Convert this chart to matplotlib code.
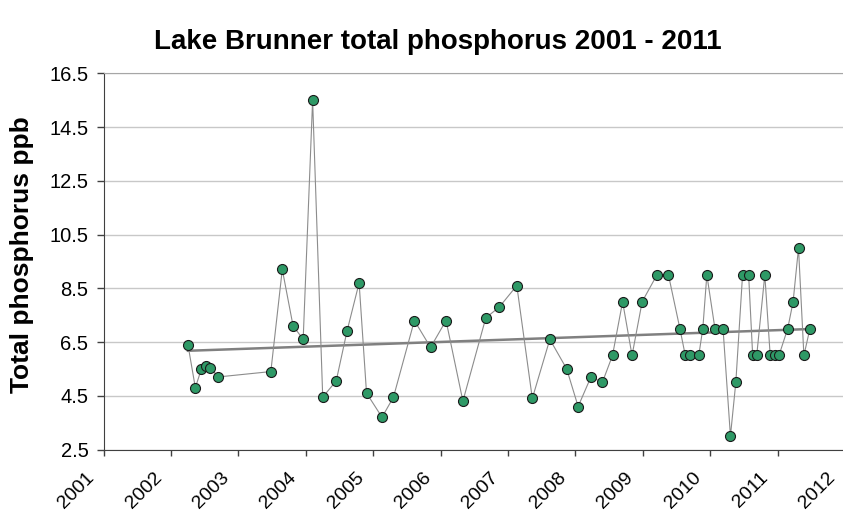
# Lake Brunner total phosphorus chart

import numpy as np
import matplotlib.pyplot as plt
import matplotlib.transforms as mtransforms

# sample dates (decimal years) and total phosphorus (ppb)
dates = [2002.25, 2002.36, 2002.45, 2002.52, 2002.58, 2002.70,
         2003.48, 2003.65, 2003.81, 2003.96, 2004.10, 2004.25,
         2004.45, 2004.61, 2004.79, 2004.90, 2005.13, 2005.30,
         2005.61, 2005.85, 2006.08, 2006.33, 2006.67, 2006.87,
         2007.13, 2007.36, 2007.62, 2007.87, 2008.04, 2008.23,
         2008.40, 2008.55, 2008.70, 2008.84, 2008.99, 2009.21,
         2009.38, 2009.55, 2009.63, 2009.70, 2009.83, 2009.89,
         2009.95, 2010.07, 2010.19, 2010.30, 2010.38, 2010.48,
         2010.57, 2010.63, 2010.69, 2010.81, 2010.89, 2010.96,
         2011.02, 2011.15, 2011.23, 2011.31, 2011.39, 2011.48]
tp = [6.4, 4.8, 5.5, 5.6, 5.55, 5.2,
      5.4, 9.2, 7.1, 6.6, 15.5, 4.45,
      5.05, 6.9, 8.7, 4.6, 3.7, 4.45,
      7.3, 6.3, 7.3, 4.3, 7.4, 7.8,
      8.6, 4.4, 6.6, 5.5, 4.1, 5.2,
      5.0, 6.0, 8.0, 6.0, 8.0, 9.0,
      9.0, 7.0, 6.0, 6.0, 6.0, 7.0,
      9.0, 7.0, 7.0, 3.0, 5.0, 9.0,
      9.0, 6.0, 6.0, 9.0, 6.0, 6.0,
      6.0, 7.0, 8.0, 10.0, 6.0, 7.0]
year_ticks = list(range(2001, 2013))
y_ticks = [2.5, 4.5, 6.5, 8.5, 10.5, 12.5, 14.5, 16.5]

plt.rcParams['font.family'] = ['Liberation Sans', 'DejaVu Sans']

fig = plt.figure(figsize=(8.43, 5.19), dpi=100)
# plot area runs slightly past the right edge, like the original
ax = fig.add_axes([103.7 / 843, (519 - 449.5) / 519, (845 - 103.7) / 843, (449.5 - 73.3) / 519])

# linear trend line
slope, icpt = np.polyfit(dates, tp, 1)
tx = np.array([dates[0], dates[-1]])
ax.plot(tx, slope * tx + icpt, color='#808080', lw=1.8, zorder=2)

ax.plot(dates, tp, color='#8c8c8c', lw=0.8, marker='o', ms=7.2,
        markerfacecolor='#2e9966', markeredgecolor='#1a1a1a', markeredgewidth=0.8,
        zorder=3, clip_on=False)

ax.set_xlim(2001, 2012)
ax.set_ylim(2.5, 16.5)
ax.set_xticks(year_ticks)
ax.set_xticklabels([str(y) for y in year_ticks], rotation=45, ha='right', va='top', fontsize=14)
ax.set_yticks(y_ticks)
ax.set_yticklabels([str(v) for v in y_ticks], fontsize=14.5)
ax.tick_params(axis='x', length=4, width=1, color='#404040', pad=10)
ax.tick_params(axis='y', length=5, width=1, color='#404040', pad=6)

# shift x labels a little left of their ticks
offset = mtransforms.ScaledTranslation(-6 / 100, 0, fig.dpi_scale_trans)
for lab in ax.get_xticklabels():
    lab.set_transform(lab.get_transform() + offset)

ax.yaxis.grid(True, color='#c8c8c8', lw=1)
ax.set_axisbelow(True)
ax.spines['right'].set_visible(False)
ax.spines['top'].set_color('#a6a6a6')
ax.spines['left'].set_color('#404040')
ax.spines['bottom'].set_color('#404040')

fig.text(438 / 843, 1 - 42 / 519, 'Lake Brunner total phosphorus 2001 - 2011',
         ha='center', va='center', fontsize=20, fontweight='bold')
fig.text(22 / 843, 1 - 255 / 519, 'Total phosphorus ppb', rotation=90,
         ha='center', va='center', fontsize=19, fontweight='bold')

fig.savefig('out.png', dpi=100)
